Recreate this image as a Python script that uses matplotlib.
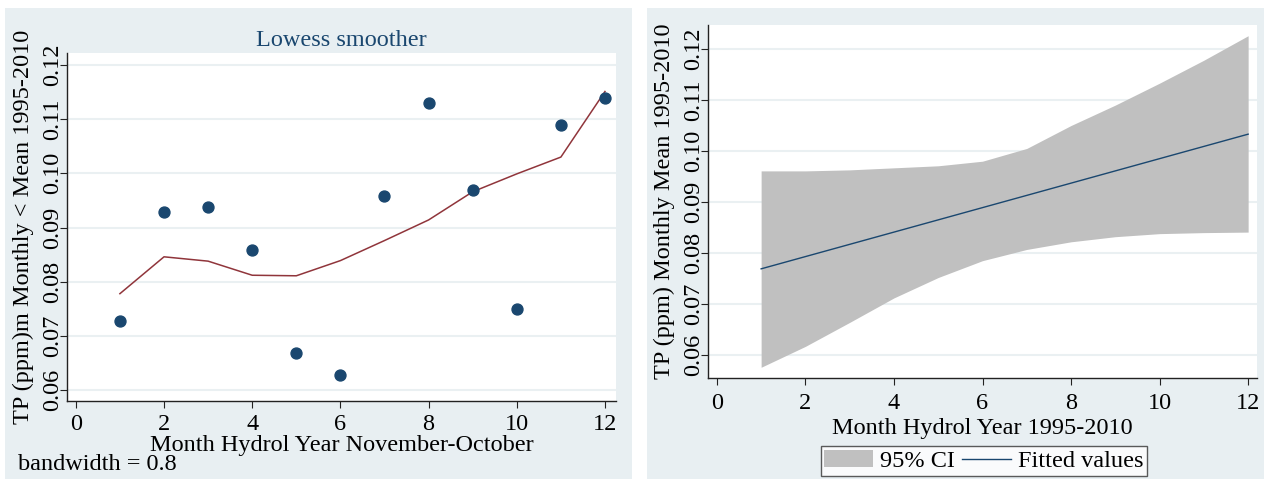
import numpy as np
import matplotlib.pyplot as plt
from matplotlib.patches import Rectangle

plt.rcParams['font.family'] = ['Liberation Serif', 'DejaVu Serif']

# left panel: monthly means and lowess smoother
months = [1, 2, 3, 4, 5, 6, 7, 8, 9, 10, 11, 12]
tp_mean = [0.0728, 0.0929, 0.0938, 0.0858, 0.0669, 0.0628,
           0.0959, 0.1129, 0.0969, 0.0749, 0.1089, 0.1139]
lowess = [0.0778, 0.0846, 0.0838, 0.0812, 0.0811, 0.0839,
          0.0876, 0.0914, 0.0966, 0.0999, 0.1030, 0.1151]

# right panel: linear fit with 95% CI
fitted = [0.0769, 0.0793, 0.0817, 0.0841, 0.0865, 0.0889,
          0.0913, 0.0937, 0.0961, 0.0985, 0.1009, 0.1033]
ci_upper = [0.0961, 0.0961, 0.0963, 0.0967, 0.0971, 0.0980,
            0.1005, 0.1050, 0.1090, 0.1133, 0.1178, 0.1226]
ci_lower = [0.0576, 0.0617, 0.0664, 0.0712, 0.0752, 0.0785,
            0.0807, 0.0822, 0.0832, 0.0838, 0.0840, 0.0841]

x_ticks = [0, 2, 4, 6, 8, 10, 12]
y_ticks = [0.06, 0.07, 0.08, 0.09, 0.10, 0.11, 0.12]
y_labels = ['0.06', '0.07', '0.08', '0.09', '0.10', '0.11', '0.12']

BG = '#e8eff2'
NAVY = '#1a476f'
MAROON = '#90353b'
GRID = '#eaf0f2'
FS = 17.5

W, H = 1264, 479
fig = plt.figure(figsize=(W / 100, H / 100), dpi=100)
fig.patch.set_facecolor('white')

# graph regions (Stata style light blue background)
fig.patches.append(Rectangle((5 / W, 0), 627 / W, 1 - 8 / H, transform=fig.transFigure,
                             facecolor=BG, edgecolor='none', zorder=-10))
fig.patches.append(Rectangle((647 / W, 0), 617 / W, 1 - 8 / H, transform=fig.transFigure,
                             facecolor=BG, edgecolor='none', zorder=-10))


def style_axes(ax, ylabel, xlabel, xpad, xlabelpad):
    ax.set_facecolor('white')
    for side in ['top', 'right']:
        ax.spines[side].set_visible(False)
    for side in ['left', 'bottom']:
        ax.spines[side].set_color('#222222')
        ax.spines[side].set_linewidth(1.0)
    ax.set_xticks(x_ticks)
    ax.set_yticks(y_ticks)
    ax.set_yticklabels(y_labels, rotation=90, va='center')
    ax.tick_params(labelsize=FS, length=5, color='#222222')
    ax.tick_params(axis='x', pad=xpad)
    ax.tick_params(axis='y', pad=-2.5)
    ax.grid(axis='y', color=GRID, linewidth=1.5)
    ax.set_axisbelow(True)
    ax.set_xlabel(xlabel, fontsize=FS, labelpad=xlabelpad)
    ax.set_ylabel(ylabel, fontsize=FS, labelpad=6)


# left: lowess smoother
ax1 = fig.add_axes([67 / W, 1 - 401 / H, 549 / W, 348 / H])
ax1.scatter(months, tp_mean, s=62, color=NAVY, zorder=3)
ax1.plot(months, lowess, color=MAROON, lw=1.1, zorder=2)
ax1.set_xlim(-0.2, 12.25)
ax1.set_ylim(0.058, 0.1222)
style_axes(ax1, 'TP (ppm)m Monthly < Mean 1995-2010', 'Month Hydrol Year November-October', 4.5, 0)
ax1.set_title('Lowess smoother', color=NAVY, fontsize=FS, pad=5)
fig.text(18 / W, 1 - 465 / H, 'bandwidth = 0.8', fontsize=FS, ha='left', va='center')

# right: linear fit with CI
ax2 = fig.add_axes([708 / W, 1 - 378 / H, 549 / W, 353 / H])
ax2.fill_between(months, ci_lower, ci_upper, color='#c0c0c0', lw=0, label='95% CI')
ax2.plot(months, fitted, color=NAVY, lw=1.0, label='Fitted values')
ax2.set_xlim(-0.2, 12.2)
ax2.set_ylim(0.0555, 0.1247)
style_axes(ax2, 'TP (ppm) Monthly Mean 1995-2010', 'Month Hydrol Year 1995-2010', 5.5, 3)
leg = ax2.legend(loc='center', bbox_to_anchor=(984 / W, 1 - 461 / H),
                 bbox_transform=fig.transFigure, ncol=2, fontsize=FS,
                 frameon=True, fancybox=False, edgecolor='#333333',
                 handlelength=2.0, handletextpad=0.3, columnspacing=0.3,
                 borderpad=0.15, borderaxespad=0)
leg.get_frame().set_linewidth(1.0)

fig.savefig('out.png', dpi=100, facecolor=fig.get_facecolor())
